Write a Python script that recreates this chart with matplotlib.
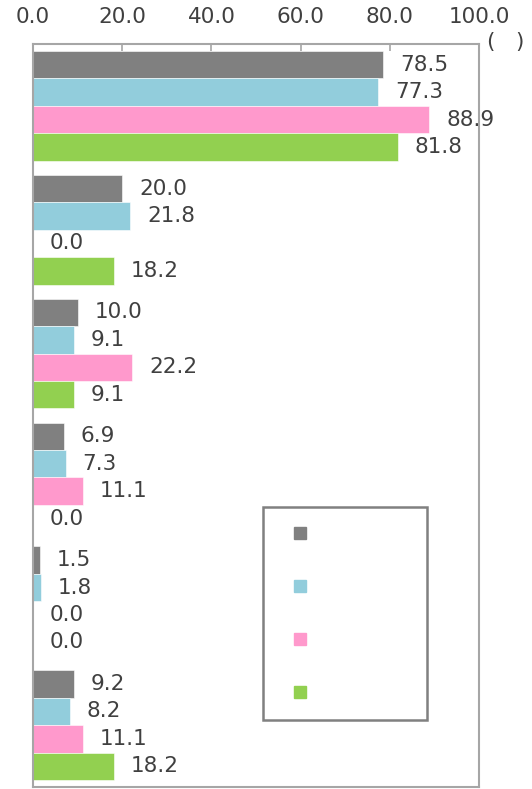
import numpy as np
import matplotlib.pyplot as plt
from matplotlib.lines import Line2D

# =========================
# DATA
# =========================
groups = ["", "", "", "", "", ""]
series_names = [" ", " ", " ", " "]
gray_vals = [78.5, 20.0, 10.0, 6.9, 1.5, 9.2]
blue_vals = [77.3, 21.8, 9.1, 7.3, 1.8, 8.2]
pink_vals = [88.9, 0.0, 22.2, 11.1, 0.0, 11.1]
green_vals = [81.8, 18.2, 9.1, 0.0, 0.0, 18.2]
x_ticks = [0, 20, 40, 60, 80, 100]
unit_label = "(   )"

colors = ["#808080", "#92CDDC", "#FF99CC", "#92D050"]
text_color = "#404040"
spine_color = "#A6A6A6"

# =========================
# PLOT
# =========================
fig = plt.figure(figsize=(5.32, 7.89), dpi=100)
ax = fig.add_axes([33 / 532, 2 / 789, (479 - 33) / 532, (787 - 44) / 789])

all_vals = [gray_vals, blue_vals, pink_vals, green_vals]
y = np.arange(len(groups))
h = 0.2215
offsets = (np.arange(4) - 1.5) * h

for vals, off, col in zip(all_vals, offsets, colors):
    ax.barh(y + off, vals, height=h, color=col, edgecolor="white", linewidth=0.4)
    for yi, v in zip(y + off, vals):
        ax.annotate(f"{v:.1f}", xy=(v, yi), xytext=(17, 0), textcoords="offset pixels",
                    ha="left", va="center", fontsize=15.5, color=text_color)

ax.set_xlim(0, 100)
ax.set_ylim(len(groups) - 0.5, -0.5)
ax.set_xticks(x_ticks)
ax.set_xticklabels([f"{t:.1f}" for t in x_ticks])
ax.set_yticks([])
ax.xaxis.tick_top()
ax.tick_params(axis="x", direction="in", length=5, width=1.2, color=spine_color,
               labelsize=15.5, labelcolor=text_color, pad=12)

for s in ax.spines.values():
    s.set_color(spine_color)
    s.set_linewidth(1.5)

fig.text(506 / 532, 1 - 42 / 789, unit_label, ha="center", va="center",
         fontsize=15.5, color=text_color)

handles = [Line2D([], [], marker="s", linestyle="none", markersize=8,
                  markerfacecolor=c, markeredgecolor=c) for c in colors]
leg = ax.legend(handles, series_names, loc="upper left",
                bbox_to_anchor=(263 / 532, 1 - 719 / 789, (427 - 263) / 532, (719 - 507) / 789),
                bbox_transform=fig.transFigure, mode="expand",
                fontsize=14, labelspacing=1.75, borderpad=0.9, handletextpad=0.5,
                fancybox=False, framealpha=1, borderaxespad=0)
leg.get_frame().set_edgecolor("#808080")
leg.get_frame().set_linewidth(1.8)

fig.savefig("out.png", dpi=100)
